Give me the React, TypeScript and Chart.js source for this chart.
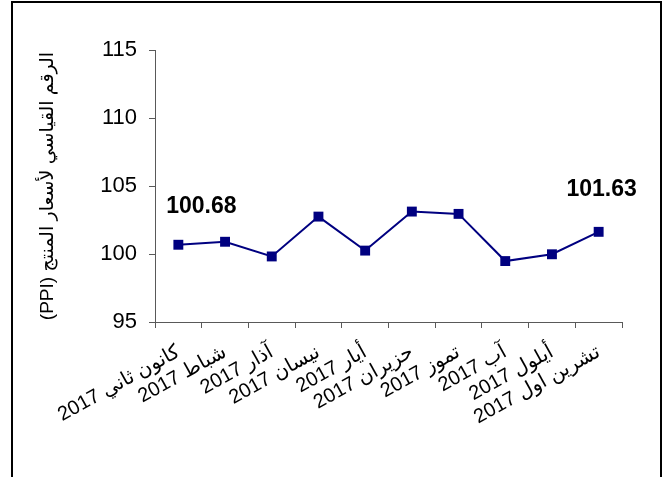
import React, { useEffect, useRef } from "react";
import { Chart, registerables } from "chart.js";

Chart.register(...registerables);

const months: string[] = [
  "كانون ثاني 2017",
  "شباط 2017",
  "آذار 2017",
  "نيسان 2017",
  "أيار 2017",
  "حزيران 2017",
  "تموز 2017",
  "آب 2017",
  "أيلول 2017",
  "تشرين اول 2017",
];
const ppiValues: number[] = [100.68, 100.9, 99.82, 102.75, 100.25, 103.12, 102.95, 99.48, 99.98, 101.63];
const labelledIndices: number[] = [0, ppiValues.length - 1];
const yTitle = "(PPI) الرقم القياسي لأسعار المنتج";

const AXIS = "#595959";
const NAVY = "#000080";
const FONT = "'Liberation Sans', Arial, 'DejaVu Sans', sans-serif";

const valueLabelPlugin = {
  id: "valueLabels",
  afterDatasetsDraw(chart: any) {
    const ctx = chart.ctx;
    const meta = chart.getDatasetMeta(0);
    const offsets: Record<number, [number, number]> = { 0: [23, -38], [ppiValues.length - 1]: [3, -42] };
    ctx.save();
    ctx.font = `bold 23px ${FONT}`;
    ctx.fillStyle = "#000";
    ctx.textAlign = "center";
    ctx.textBaseline = "middle";
    labelledIndices.forEach((i) => {
      const p = meta.data[i];
      const [dx, dy] = offsets[i] || [0, -30];
      ctx.fillText(ppiValues[i].toFixed(2), p.x + dx, p.y + dy);
    });
    ctx.restore();
  },
};

export default function App() {
  const ref = useRef<HTMLCanvasElement | null>(null);
  useEffect(() => {
    if (!ref.current) return;
    const chart = new Chart(ref.current, {
      type: "line",
      data: {
        labels: months,
        datasets: [
          {
            data: ppiValues,
            borderColor: NAVY,
            backgroundColor: NAVY,
            borderWidth: 2,
            pointStyle: "rect",
            pointRadius: 7,
            pointBorderWidth: 0,
            pointBackgroundColor: NAVY,
            tension: 0,
          },
        ],
      },
      options: {
        animation: false,
        responsive: false,
        devicePixelRatio: 1,
        layout: { padding: { left: 30, top: 50, right: 45, bottom: 0 } },
        plugins: { legend: { display: false }, tooltip: { enabled: false } },
        scales: {
          x: {
            offset: true,
            grid: { offset: true, drawOnChartArea: false, drawTicks: true, tickLength: 6, color: AXIS },
            border: { display: true, color: AXIS, width: 1 },
            ticks: {
              autoSkip: false,
              minRotation: 29,
              maxRotation: 29,
              padding: 14,
              color: "#000",
              font: { family: FONT, size: 20, lineHeight: 1.0 },
            },
            afterFit: (s: any) => {
              s.height = 155;
            },
          },
          y: {
            min: 95,
            max: 115,
            ticks: {
              stepSize: 5,
              padding: 12,
              color: "#000",
              font: { family: FONT, size: 22 },
            },
            grid: { drawOnChartArea: false, drawTicks: true, tickLength: 6, color: AXIS },
            border: { display: true, color: AXIS, width: 1 },
            title: {
              display: true,
              text: yTitle,
              color: "#000",
              padding: 6,
              font: { family: FONT, size: 19 },
            },
            afterFit: (s: any) => {
              s.width = 125;
            },
          },
        },
      },
      plugins: [valueLabelPlugin],
    });
    return () => chart.destroy();
  }, []);
  return (
    <div style={{ position: "fixed", left: 0, top: 0, width: 667, height: 477, background: "#fff", overflow: "hidden" }}>
      <canvas ref={ref} width={667} height={477} style={{ position: "absolute", left: 0, top: 0, width: 667, height: 477 }} />
      <div
        style={{
          position: "absolute",
          left: 11,
          top: 1,
          width: 651,
          height: 520,
          border: "2px solid #000",
          boxSizing: "border-box",
          pointerEvents: "none",
        }}
      />
    </div>
  );
}
